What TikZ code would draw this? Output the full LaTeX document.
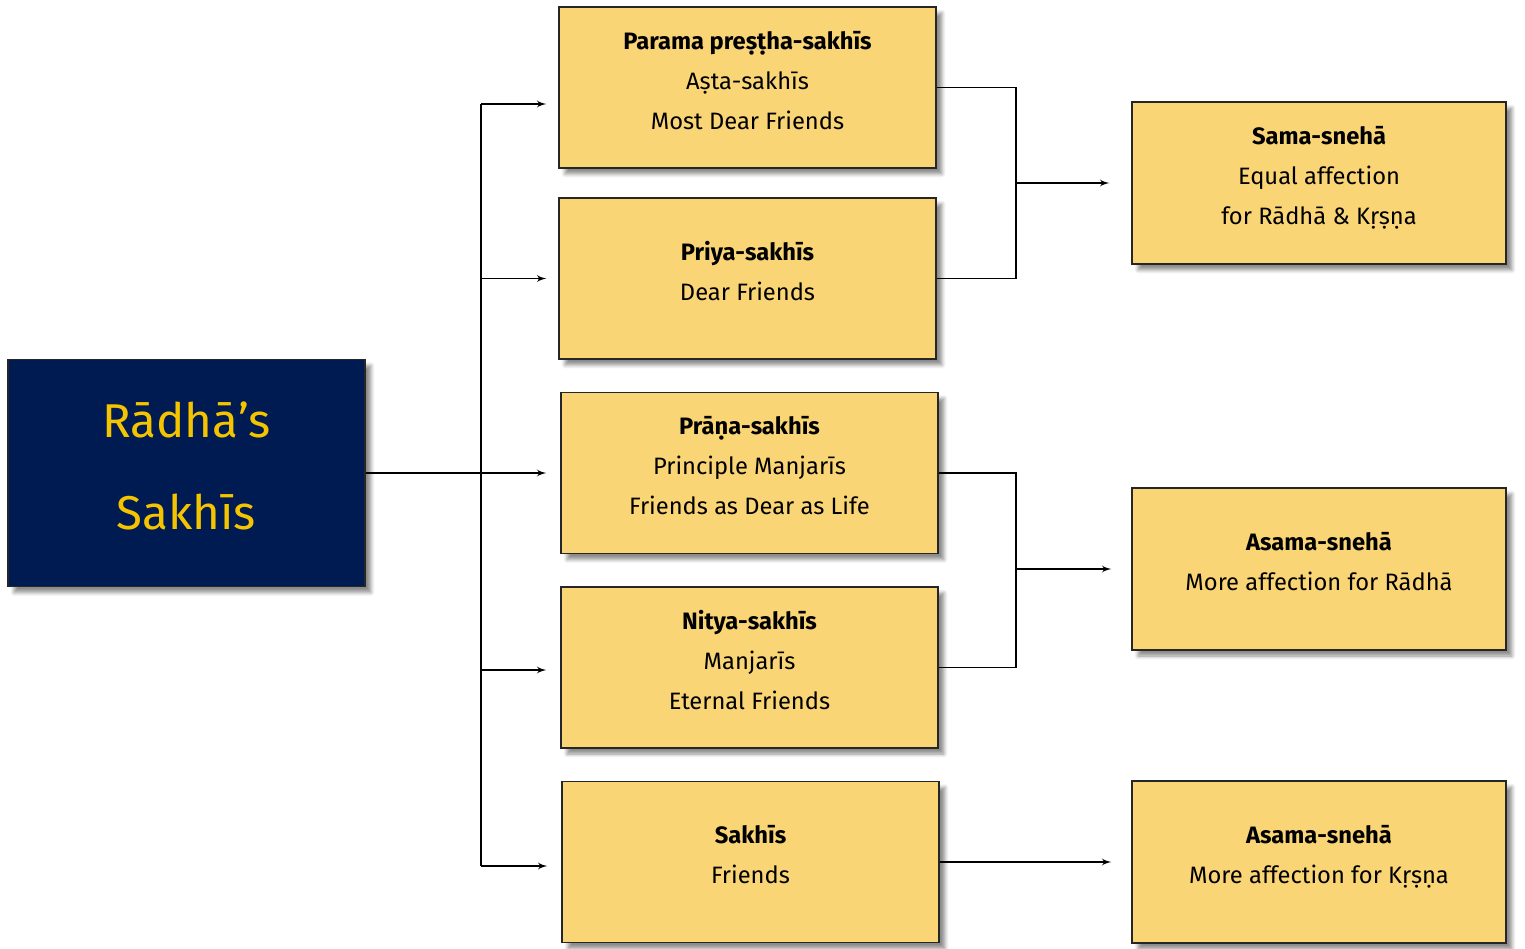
\documentclass[tikz,border=0pt]{standalone}
\usepackage{fontspec}
\setmainfont{Fira Sans}
\usetikzlibrary{arrows,positioning,shadows.blur}
\definecolor{sakhiyellow}{RGB}{250,213,118}
\definecolor{sakhinavy}{RGB}{0,27,82}
\definecolor{sakhigold}{RGB}{245,196,0}

\begin{document}
\begin{tikzpicture}[>=latex', x=0.02cm, y=-0.02cm, line width=0.85pt]
	\tikzset{block/.style= {draw=black!85, line width=0.85pt, fill=sakhiyellow, rectangle, align=center, minimum width=7.54cm, minimum height=3.22cm, text depth=0.3cm, font=\fontsize{13.5}{22.8}\selectfont,
			blur shadow={shadow xshift=0.12cm, shadow yshift=-0.12cm, shadow blur steps=6, shadow opacity=45}},
		result/.style= {block, minimum width=7.48cm, minimum height=3.24cm},
	}
	\useasboundingbox (0,0) rectangle (1525,948);

	\node [block, fill=sakhinavy, text=sakhigold, minimum width=7.14cm, minimum height=4.54cm, text depth=0.3cm, font=\fontsize{27}{52}\selectfont] (radha) at (186.5,473) {Rādhā’s\\Sakhīs};

	\node [block] (parama) at (747.5,87.5) {\textbf{Parama preṣṭha-sakhīs}\\Aṣta-sakhīs\\Most Dear Friends};
	\node [block] (priya) at (747.5,278.5) {\textbf{Priya-sakhīs}\\Dear Friends};
	\node [block] (prana) at (749.5,473) {\textbf{Prāṇa-sakhīs}\\Principle Manjarīs\\Friends as Dear as Life};
	\node [block] (nitya) at (749.5,667.5) {\textbf{Nitya-sakhīs}\\Manjarīs\\Eternal Friends};
	\node [block] (sakhi) at (750.5,862) {\textbf{Sakhīs}\\Friends};

	\node [result] (sama) at (1319,183) {\textbf{Sama-snehā}\\Equal affection\\for Rādhā \& Kṛṣṇa};
	\node [result] (asamaR) at (1319,569) {\textbf{Asama-snehā}\\More affection for Rādhā};
	\node [result] (asamaK) at (1319,862) {\textbf{Asama-snehā}\\More affection for Kṛṣṇa};

	\coordinate (split) at (481,473);
	\coordinate (join1) at (1016,183);
	\coordinate (join2) at (1016,569);

	\coordinate (in1) at ([xshift=-0.24cm, yshift=-0.33cm]parama.west);
	\coordinate (in2) at ([xshift=-0.24cm]priya.west);
	\coordinate (in3) at ([xshift=-0.28cm]prana.west);
	\coordinate (in4) at ([xshift=-0.28cm, yshift=-0.05cm]nitya.west);
	\coordinate (in5) at ([xshift=-0.28cm, yshift=-0.08cm]sakhi.west);

	\path[draw, ->] (radha.east) -- (in3);
	\path[draw] (split |- in1) -- (split |- in5);
	\path[draw, ->] (split |- in1) -- (in1);
	\path[draw, ->] (split |- in2) -- (in2);
	\path[draw, ->] (split |- in4) -- (in4);
	\path[draw, ->] (split |- in5) -- (in5);

	\path[draw] (parama.east) -| (join1) |- (priya.east);
	\path[draw, ->] (join1) -- ([xshift=-0.44cm]sama.west);
	\path[draw] (prana.east) -| (join2) |- (nitya.east);
	\path[draw, ->] (join2) -- ([xshift=-0.4cm]asamaR.west);
	\path[draw, ->] (sakhi.east) -- ([xshift=-0.4cm]asamaK.west);
\end{tikzpicture}
\end{document}
